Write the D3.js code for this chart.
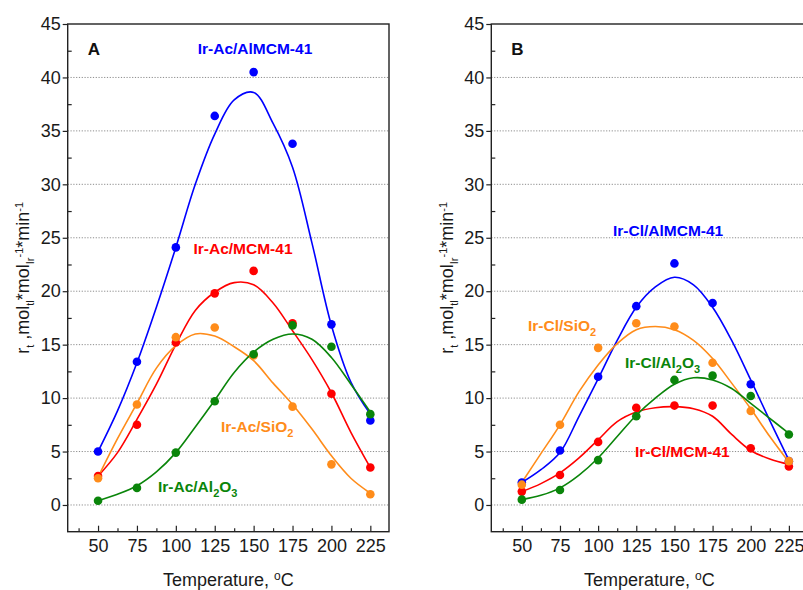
<!DOCTYPE html>
<html>
<head>
<meta charset="utf-8">
<script src="https://cdn.jsdelivr.net/npm/d3@7"></script>
<style>
  html, body { margin: 0; padding: 0; background: #fff; }
  svg { display: block; }
  text { font-family: "Liberation Sans", Arial, sans-serif; }
</style>
</head>
<body>
<svg id="chart" width="803" height="590"></svg>
<script>
// ---------- data ----------
const temps = [50, 75, 100, 125, 150, 175, 200, 225];
const fitTemps = [50, 62.5, 75, 87.5, 100, 112.5, 125, 137.5, 150, 162.5, 175, 187.5, 200, 212.5, 225];
const xTickValues = [50, 75, 100, 125, 150, 175, 200, 225];
const yTickValues = [0, 5, 10, 15, 20, 25, 30, 35, 40, 45];

// Panel A (Ir-Ac) measured points
const acAlMCM = [5.0, 13.4, 24.1, 36.4, 40.5, 33.8, 16.9, 7.9];
const acMCM   = [2.7, 7.5, 15.2, 19.8, 21.9, 17.0, 10.4, 3.5];
const acSiO2  = [2.5, 9.4, 15.7, 16.6, 14.0, 9.2, 3.8, 1.0];
const acAl2O3 = [0.4, 1.6, 4.9, 9.7, 14.1, 16.8, 14.8, 8.5];
// Panel A fitted curves
const acAlMCMFit = [5.0, 8.8, 13.3, 18.5, 24.1, 30.0, 34.7, 37.9, 38.6, 35.7, 31.6, 24.5, 16.8, 11.5, 8.5];
const acMCMFit   = [2.7, 4.9, 8.0, 11.3, 15.0, 18.2, 19.9, 20.8, 20.6, 18.9, 16.3, 13.6, 10.5, 6.8, 3.5];
const acSiO2Fit  = [2.6, 6.2, 9.5, 12.8, 14.9, 16.0, 15.8, 14.8, 13.5, 11.4, 9.4, 7.1, 4.6, 2.5, 1.1];
const acAl2O3Fit = [0.4, 1.0, 1.8, 3.1, 4.9, 7.3, 9.8, 12.4, 14.3, 15.5, 16.0, 15.5, 13.8, 11.3, 8.7];

// Panel B (Ir-Cl) measured points
const clAlMCM = [2.1, 5.1, 12.0, 18.6, 22.6, 18.9, 11.3, 4.1];
const clMCM   = [1.25, 2.8, 5.9, 9.1, 9.3, 9.3, 5.3, 3.6];
const clSiO2  = [1.9, 7.5, 14.7, 17.0, 16.7, 13.3, 8.8, 4.1];
const clAl2O3 = [0.5, 1.4, 4.2, 8.3, 11.7, 12.1, 10.2, 6.6];
// Panel B fitted curves
const clAlMCMFit = [2.1, 3.3, 4.9, 8.3, 11.8, 15.4, 18.5, 20.4, 21.3, 20.6, 18.5, 15.4, 11.7, 7.9, 4.2];
const clMCMFit   = [1.25, 2.0, 3.0, 4.4, 6.1, 7.8, 8.7, 9.1, 9.2, 9.0, 8.3, 6.6, 5.1, 4.3, 3.8];
const clSiO2Fit  = [2.1, 4.8, 7.5, 10.6, 13.1, 15.1, 16.4, 16.7, 16.4, 15.4, 13.7, 11.4, 9.0, 6.4, 4.0];
const clAl2O3Fit = [0.5, 0.9, 1.6, 2.8, 4.4, 6.4, 8.4, 10.0, 11.3, 11.9, 11.7, 10.9, 9.5, 8.1, 6.7];

const colors = { blue: "#0000FF", red: "#FF0000", orange: "#FF8C1A", green: "#0A850A" };

// ---------- layout ----------
const svg = d3.select("#chart");
const plotTop = 24, plotBottom = 531.7;
const y = d3.scaleLinear().domain([-2.5, 45]).range([plotBottom, plotTop]);

const panels = [
  {
    letter: "A", left: 67.7, right: 389, xDomain: [30.5, 237], titleX: 29,
    series: [
      { pts: acAlMCM, fit: acAlMCMFit, color: colors.blue },
      { pts: acMCM, fit: acMCMFit, color: colors.red },
      { pts: acSiO2, fit: acSiO2Fit, color: colors.orange },
      { pts: acAl2O3, fit: acAl2O3Fit, color: colors.green }
    ],
    labels: [
      { segs: [["Ir-Ac/AlMCM-41", ""]], x: 255, y: 54, anchor: "middle", color: colors.blue },
      { segs: [["Ir-Ac/MCM-41", ""]], x: 243, y: 254, anchor: "middle", color: colors.red },
      { segs: [["Ir-Ac/SiO", ""], ["2", "sub"]], x: 221, y: 432, anchor: "start", color: colors.orange },
      { segs: [["Ir-Ac/Al", ""], ["2", "sub"], ["O", ""], ["3", "sub"]], x: 158, y: 492, anchor: "start", color: colors.green }
    ]
  },
  {
    letter: "B", left: 491.3, right: 807.2, xDomain: [30, 237], titleX: 453,
    series: [
      { pts: clAlMCM, fit: clAlMCMFit, color: colors.blue },
      { pts: clMCM, fit: clMCMFit, color: colors.red },
      { pts: clSiO2, fit: clSiO2Fit, color: colors.orange },
      { pts: clAl2O3, fit: clAl2O3Fit, color: colors.green }
    ],
    labels: [
      { segs: [["Ir-Cl/AlMCM-41", ""]], x: 613, y: 236, anchor: "start", color: colors.blue },
      { segs: [["Ir-Cl/SiO", ""], ["2", "sub"]], x: 528, y: 331, anchor: "start", color: colors.orange },
      { segs: [["Ir-Cl/Al", ""], ["2", "sub"], ["O", ""], ["3", "sub"]], x: 625, y: 368, anchor: "start", color: colors.green },
      { segs: [["Ir-Cl/MCM-41", ""]], x: 635, y: 457, anchor: "start", color: colors.red }
    ]
  }
];

function addSegs(textSel, segs, baseSize, subSize) {
  let prev = 0;
  segs.forEach(([str, kind]) => {
    const shift = kind === "sub" ? 4.5 : kind === "sup" ? -6.5 : 0;
    textSel.append("tspan")
      .attr("dy", shift - prev)
      .attr("font-size", kind ? subSize : baseSize)
      .text(str);
    prev = shift;
  });
}

panels.forEach(p => {
  const x = d3.scaleLinear().domain(p.xDomain).range([p.left, p.right]);
  const g = svg.append("g");

  // gridlines
  g.append("g").selectAll("line")
    .data(d3.range(0, 45, 5))
    .join("line")
    .attr("x1", p.left).attr("x2", p.right)
    .attr("y1", d => y(d)).attr("y2", d => y(d))
    .attr("stroke", "#8c8c8c").attr("stroke-width", 1)
    .attr("stroke-dasharray", "1.2,1.6");

  // y axis major (outward) + minor (inward)
  g.append("g").attr("transform", `translate(${p.left},0)`)
    .call(d3.axisLeft(y).tickValues(yTickValues).tickSize(5).tickPadding(2));
  g.append("g").attr("transform", `translate(${p.left},0)`)
    .call(d3.axisRight(y).tickValues(d3.range(2.5, 45, 5)).tickSize(4).tickFormat(""));

  // x axis major + minor (inward)
  g.append("g").attr("transform", `translate(0,${plotBottom})`)
    .call(d3.axisBottom(x).tickValues(xTickValues).tickSize(-6).tickPadding(8).tickFormat(d3.format("d")));
  g.append("g").attr("transform", `translate(0,${plotBottom})`)
    .call(d3.axisBottom(x).tickValues(d3.range(37.5, 237, 25)).tickSize(-3.5).tickFormat(""));

  g.selectAll(".domain").remove();
  g.selectAll(".tick line").attr("stroke", "#222").attr("stroke-width", 1.2);
  g.selectAll(".tick text").attr("font-size", 18).attr("fill", "#1a1a1a")
    .attr("font-family", '"Liberation Sans", Arial, sans-serif');

  // frame
  g.append("rect")
    .attr("x", p.left).attr("y", plotTop)
    .attr("width", p.right - p.left).attr("height", plotBottom - plotTop)
    .attr("fill", "none").attr("stroke", "#222").attr("stroke-width", 1.4);

  // curves
  const line = d3.line().x((d, i) => x(fitTemps[i])).y(d => y(d)).curve(d3.curveCatmullRom.alpha(0.5));
  p.series.forEach(s => {
    g.append("path").datum(s.fit)
      .attr("d", line)
      .attr("fill", "none").attr("stroke", s.color).attr("stroke-width", 1.6);
  });
  // points
  p.series.forEach(s => {
    g.append("g").selectAll("circle")
      .data(s.pts)
      .join("circle")
      .attr("cx", (d, i) => x(temps[i]))
      .attr("cy", d => y(d))
      .attr("r", 4.3)
      .attr("fill", s.color);
  });

  // panel letter
  g.append("text").attr("x", p.left + 20).attr("y", 55)
    .attr("font-size", 17).attr("font-weight", "bold").attr("fill", "#111")
    .text(p.letter);

  // series labels
  p.labels.forEach(l => {
    const t = g.append("text").attr("x", l.x).attr("y", l.y)
      .attr("text-anchor", l.anchor).attr("font-weight", "bold")
      .attr("fill", l.color);
    addSegs(t, l.segs, 15.5, 11);
  });

  // x title
  const xt = g.append("text")
    .attr("x", (p.left + p.right) / 2).attr("y", 586)
    .attr("text-anchor", "middle").attr("fill", "#1a1a1a");
  addSegs(xt, [["Temperature, ", ""], ["o", "sup"], ["C", ""]], 18, 12);

  // y title
  const yt = g.append("text")
    .attr("transform", `translate(${p.titleX},${(plotTop + plotBottom) / 2}) rotate(-90)`)
    .attr("text-anchor", "middle").attr("fill", "#1a1a1a");
  addSegs(yt, [["r", ""], ["t", "sub"], [" ,mol", ""], ["tl", "sub"], ["*mol", ""], ["Ir", "sub"], ["-1", "sup"], ["*min", ""], ["-1", "sup"]], 18, 11);
});
</script>
</body>
</html>
